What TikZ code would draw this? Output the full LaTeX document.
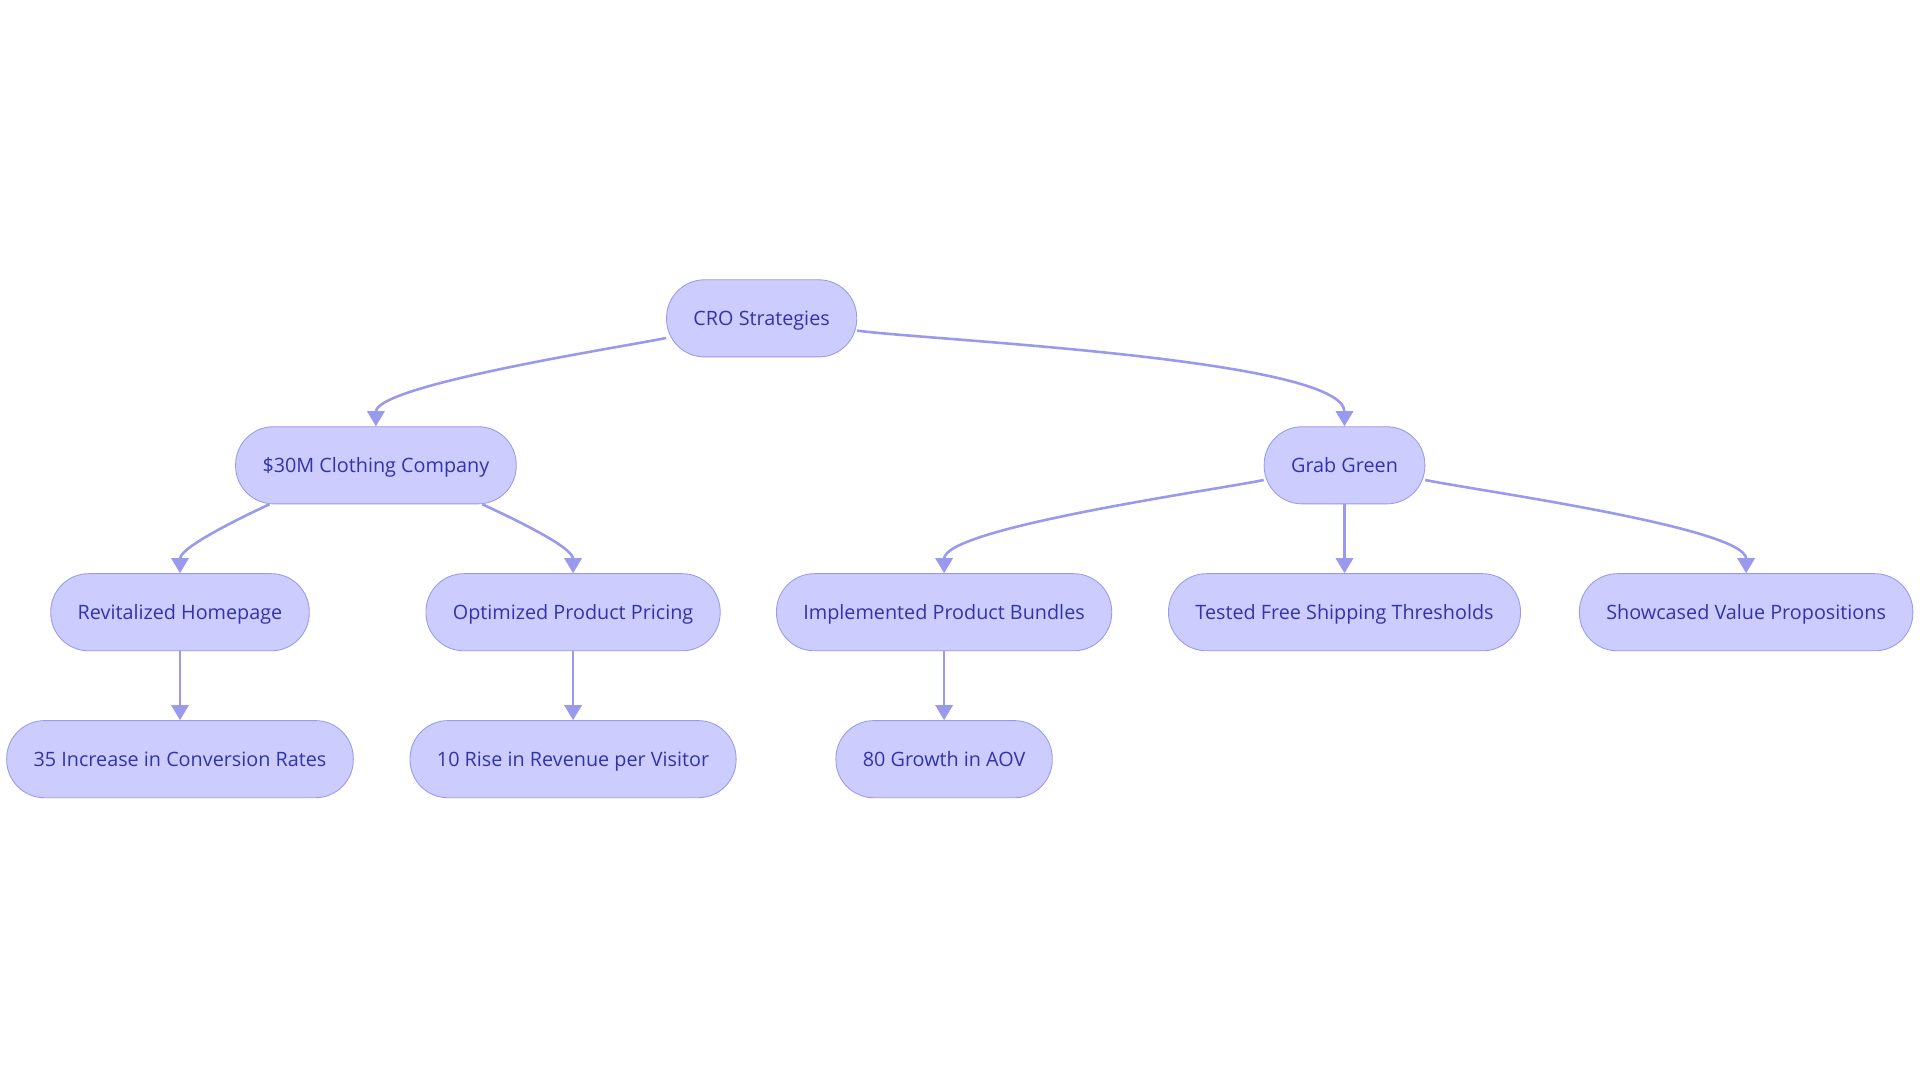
\documentclass[tikz,border=0pt]{standalone}
\usepackage{fontspec}
\setmainfont{Open Sans}
\usetikzlibrary{positioning,arrows.meta,calc}
\definecolor{boxfill}{HTML}{CCCCFF}
\definecolor{boxline}{HTML}{9999EE}
\definecolor{boxtext}{HTML}{3333AA}
\begin{document}
\begin{tikzpicture}[
  x=0.02cm, y=-0.02cm,
  box/.style={draw=boxline, fill=boxfill, text=boxtext, rounded corners=0.62cm,
    minimum height=1.26cm, inner xsep=0.44cm, text height=1.6ex, text depth=0.4ex,
    font=\fontsize{9.2pt}{11pt}\selectfont},
  edge/.style={draw=boxline, line width=1.2pt, -{Triangle[length=7pt,width=8pt]}}
]
  \useasboundingbox (0,0) rectangle (1568,884);

  \node[box] (cro) at (622,260) {CRO Strategies};
  \node[box] (clo) at (307,380) {\$30M Clothing Company};
  \node[box] (grab) at (1098,380) {Grab Green};
  \node[box] (home) at (147,500) {Revitalized Homepage};
  \node[box] (price) at (468,500) {Optimized Product Pricing};
  \node[box] (bund) at (771,500) {Implemented Product Bundles};
  \node[box] (ship) at (1098,500) {Tested Free Shipping Thresholds};
  \node[box] (value) at (1426,500) {Showcased Value Propositions};
  \node[box] (conv) at (147,620) {35 Increase in Conversion Rates};
  \node[box] (rev) at (468,620) {10 Rise in Revenue per Visitor};
  \node[box] (aov) at (771,620) {80 Growth in AOV};

  % top level
  \draw[edge] ($(cro.west)+(0,16)$) to[out=192, in=90, looseness=0.35] (clo.north);
  \draw[edge] ($(cro.east)+(0,10)$) to[out=-8, in=90, looseness=0.35] (grab.north);

  % clothing company
  \draw[edge] ($(clo.south west)+(28,0)$) to[out=205, in=90, looseness=0.6] (home.north);
  \draw[edge] ($(clo.south east)+(-28,0)$) to[out=-25, in=90, looseness=0.6] (price.north);
  \draw[edge] (home) -- (conv);
  \draw[edge] (price) -- (rev);

  % grab green
  \draw[edge] ($(grab.west)+(0,12)$) to[out=192, in=90, looseness=0.35] (bund.north);
  \draw[edge] (grab) -- (ship);
  \draw[edge] ($(grab.east)+(0,12)$) to[out=-12, in=90, looseness=0.35] (value.north);
  \draw[edge] (bund) -- (aov);
\end{tikzpicture}
\end{document}
